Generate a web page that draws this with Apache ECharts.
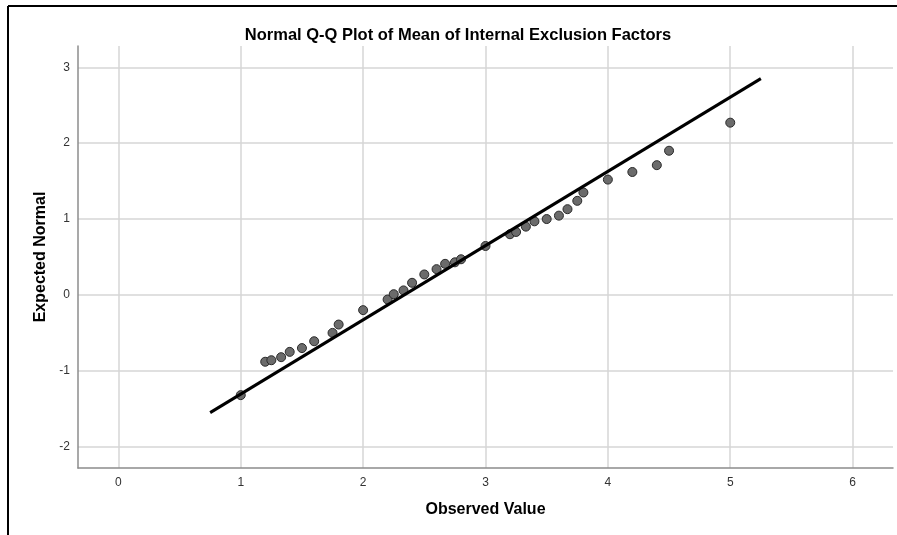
<!DOCTYPE html>
<html>
<head>
<meta charset="utf-8">
<script src="https://cdn.jsdelivr.net/npm/echarts@6/dist/echarts.min.js"></script>
<style>
html,body{margin:0;padding:0;background:#fff;}
#c{width:897px;height:535px;}
</style>
</head>
<body>
<div id="c"></div>
<script>
var observed = [1.00, 1.20, 1.25, 1.33, 1.40, 1.50, 1.60, 1.75, 1.80, 2.00,
  2.20, 2.25, 2.33, 2.40, 2.50, 2.60, 2.67, 2.75, 2.80, 3.00,
  3.20, 3.25, 3.33, 3.40, 3.50, 3.60, 3.67, 3.75, 3.80, 4.00,
  4.20, 4.40, 4.50, 5.00];
var expected = [-1.32, -0.88, -0.86, -0.82, -0.75, -0.70, -0.61, -0.50, -0.39, -0.20,
  -0.06, 0.01, 0.06, 0.16, 0.27, 0.34, 0.41, 0.43, 0.47, 0.645,
  0.80, 0.83, 0.90, 0.97, 1.00, 1.045, 1.13, 1.24, 1.35, 1.52,
  1.62, 1.71, 1.90, 2.27];
// Reference line end points
var refLineX = [0.75, 5.25];
var refLineY = [-1.55, 2.85];
// Axis ranges
var xRange = [-0.33, 6.33];
var yRange = [-2.28, 3.28];

var chart = echarts.init(document.getElementById('c'), null, {renderer: 'canvas'});
var font = '"Liberation Sans", Arial, sans-serif';

function isInt(v){ return Math.abs(v - Math.round(v)) < 1e-9; }

var option = {
  backgroundColor: '#ffffff',
  animation: false,
  title: {
    text: 'Normal Q-Q Plot of Mean of Internal Exclusion Factors',
    left: 453, top: 22, textAlign: 'center',
    textStyle: {fontFamily: font, fontSize: 16.5, fontWeight: 'bold', color: '#000'}
  },
  grid: {left: 78, top: 46, right: 4, bottom: 67},
  xAxis: {
    type: 'value', min: xRange[0], max: xRange[1], splitNumber: 6,
    name: 'Observed Value', nameLocation: 'middle', nameGap: 34,
    nameTextStyle: {fontFamily: font, fontSize: 16, fontWeight: 'bold', color: '#000'},
    axisLine: {onZero: false, lineStyle: {color: '#8c8c8c', width: 1.5}},
    axisTick: {show: false},
    axisLabel: {fontFamily: font, fontSize: 12, color: '#333', margin: 9,
      showMinLabel: false, showMaxLabel: false,
      formatter: function(v){ return isInt(v) ? String(Math.round(v)) : ''; }},
    splitLine: {show: true, showMinLine: false, showMaxLine: false, lineStyle: {color: '#d6d6d6', width: 1.5}}
  },
  yAxis: {
    type: 'value', min: yRange[0], max: yRange[1], splitNumber: 5,
    name: 'Expected Normal', nameLocation: 'middle', nameGap: 28, nameRotate: 90,
    nameTextStyle: {fontFamily: font, fontSize: 16, fontWeight: 'bold', color: '#000'},
    axisLine: {show: true, onZero: false, lineStyle: {color: '#8c8c8c', width: 1.5}},
    axisTick: {show: false},
    axisLabel: {fontFamily: font, fontSize: 12, color: '#333', margin: 8,
      showMinLabel: false, showMaxLabel: false,
      formatter: function(v){ return isInt(v) ? String(Math.round(v)) : ''; }},
    splitLine: {show: true, showMinLine: false, showMaxLine: false, lineStyle: {color: '#d6d6d6', width: 1.5}}
  },
  graphic: [
    {type: 'line', shape: {x1: 8, y1: 6, x2: 897, y2: 6}, style: {stroke: '#000', lineWidth: 2}, z: 100},
    {type: 'line', shape: {x1: 8, y1: 6, x2: 8, y2: 535}, style: {stroke: '#000', lineWidth: 2}, z: 100}
  ],
  series: [
    {
      type: 'scatter',
      data: observed.map(function(x, i){ return [x, expected[i]]; }),
      symbolSize: 9,
      itemStyle: {color: '#6b6b6b', borderColor: '#2a2a2a', borderWidth: 1, opacity: 1},
      z: 3
    },
    {
      type: 'line',
      data: refLineX.map(function(x, i){ return [x, refLineY[i]]; }),
      showSymbol: false, symbol: 'none',
      lineStyle: {color: '#000', width: 3},
      z: 4
    }
  ]
};
chart.setOption(option);
</script>
</body>
</html>
